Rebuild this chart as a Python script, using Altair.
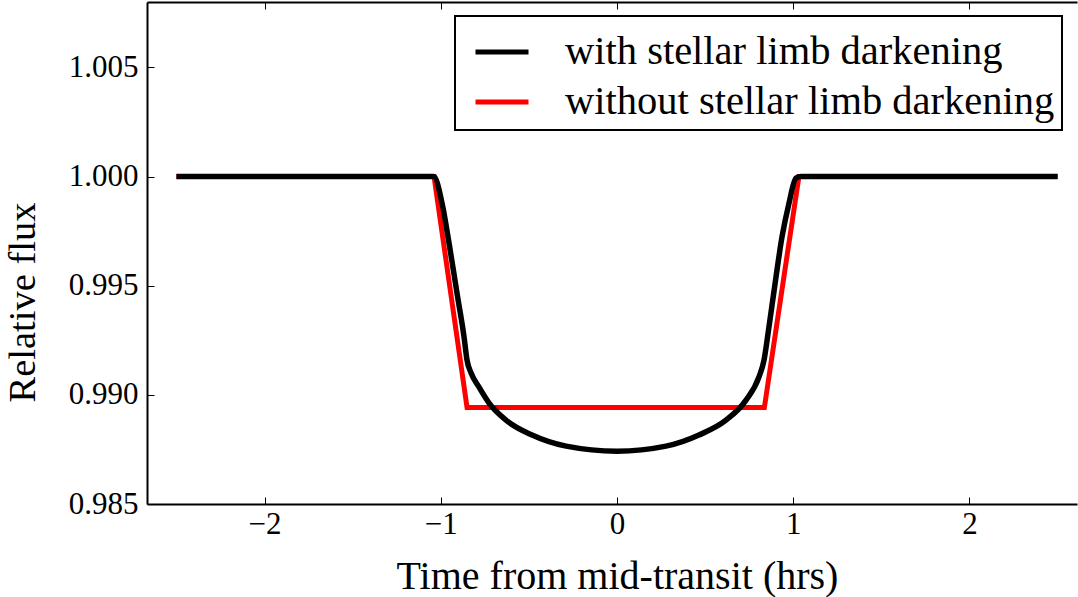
import altair as alt
import pandas as pd

# --- data ---
series_names = ["with stellar limb darkening\u00a0", "without stellar limb darkening\u00a0"]
series_colors = ["#000000", "#ff0000"]

t_with = [-2.5, -1.04, -0.993, -0.953, -0.908, -0.868, -0.851, -0.828, -0.783, -0.726,
          -0.630, -0.482, -0.289, 0.0, 0.278, 0.465, 0.618, 0.732, 0.805, 0.834,
          0.862, 0.902, 0.936, 0.976, 1.015, 1.044, 2.5]
flux_with = [1.0, 1.0, 0.99879, 0.99695, 0.99466, 0.99265, 0.99159, 0.99100, 0.99035, 0.98962,
             0.98884, 0.98816, 0.98765, 0.98742, 0.98765, 0.98816, 0.98884, 0.98976, 0.99081, 0.99159,
             0.99310, 0.99540, 0.99723, 0.99879, 0.99993, 1.0, 1.0]

t_without = [-2.5, -1.038, -0.851, 0.836, 1.032, 2.5]
flux_without = [1.0, 1.0, 0.98942, 0.98942, 1.0, 1.0]

x_ticks = [-2, -1, 0, 1, 2]
y_ticks = [0.985, 0.990, 0.995, 1.000, 1.005]
x_domain = [-2.667, 2.61]
y_domain = [0.985, 1.008]

FONT = "Liberation Serif"

df_with = pd.DataFrame({"t": t_with, "flux": flux_with, "series": series_names[0]})
df_without = pd.DataFrame({"t": t_without, "flux": flux_without, "series": series_names[1]})

xs = alt.Scale(domain=x_domain, nice=False, zero=False)
ys = alt.Scale(domain=y_domain, nice=False, zero=False)
cs = alt.Scale(domain=series_names, range=series_colors)

legend = alt.Legend(
    orient="none", legendX=308, legendY=14, title=None,
    symbolType="stroke", symbolSize=2809, symbolStrokeWidth=5,
    labelFontSize=40.5, labelFont=FONT, labelColor="black", labelOffset=34, labelLimit=0,
    padding=7, symbolOffset=11, rowPadding=0,
    strokeColor="black", fillColor="white",
)

x_main = alt.Axis(orient="bottom", values=x_ticks, format="d", ticks=False, domain=True,
                  domainColor="black", domainWidth=2, labelFontSize=31, labelFont=FONT,
                  labelColor="black", labelPadding=5, grid=False,
                  title="Time from mid-transit (hrs)", titleFontSize=40, titleFont=FONT,
                  titleFontWeight="normal", titleColor="black", titleX=470, titleY=84,
                  titleBaseline="alphabetic", titleAlign="center")
x_tick_axis = alt.Axis(orient="bottom", values=x_ticks, offset=-7, ticks=True, tickSize=7,
                       tickWidth=1, tickColor="black", domain=False, labels=False,
                       grid=False, title=None)
x_top_dom = alt.Axis(orient="top", values=x_ticks, ticks=False, domain=True, domainColor="black",
                     domainWidth=2, labels=False, grid=False, title=None)
x_top_ticks = alt.Axis(orient="top", values=x_ticks, offset=-7, ticks=True, tickSize=7,
                       tickWidth=1, tickColor="black", domain=False, labels=False,
                       grid=False, title=None)

y_main = alt.Axis(orient="left", values=y_ticks, format=".3f", ticks=False, domain=True,
                  domainColor="black", domainWidth=2, labelFontSize=31, labelFont=FONT,
                  labelColor="black", labelPadding=9, grid=False,
                  title="Relative flux", titleFontSize=38.5, titleFont=FONT,
                  titleFontWeight="normal", titleColor="black", titleX=-125, titleY=300,
                  titleAngle=270, titleBaseline="middle", titleAlign="center")
y_tick_axis = alt.Axis(orient="left", values=y_ticks, offset=-7, ticks=True, tickSize=7,
                       tickWidth=1, tickColor="black", domain=False, labels=False,
                       grid=False, title=None)

red = alt.Chart(df_without).mark_line(strokeWidth=5).encode(
    x=alt.X("t:Q", scale=xs, axis=x_main),
    y=alt.Y("flux:Q", scale=ys, axis=y_main),
    color=alt.Color("series:N", scale=cs, legend=legend),
)
black = alt.Chart(df_with).mark_line(strokeWidth=5.5, interpolate="monotone").encode(
    x=alt.X("t:Q", scale=xs, axis=x_tick_axis),
    y=alt.Y("flux:Q", scale=ys, axis=y_tick_axis),
    color=alt.Color("series:N", scale=cs, legend=legend),
)
ghost1 = alt.Chart(df_without).mark_line(strokeOpacity=0).encode(
    x=alt.X("t:Q", scale=xs, axis=x_top_dom),
    y=alt.Y("flux:Q", scale=ys, axis=None),
)
ghost2 = alt.Chart(df_without).mark_line(strokeOpacity=0).encode(
    x=alt.X("t:Q", scale=xs, axis=x_top_ticks),
    y=alt.Y("flux:Q", scale=ys, axis=None),
)

chart = alt.layer(red, black, ghost1, ghost2).resolve_axis(
    x="independent", y="independent"
).properties(
    width=930, height=502,
    padding={"left": 147, "top": 2, "right": 1, "bottom": 93},
    autosize=alt.AutoSizeParams(type="none"),
    background="white",
).configure(font=FONT).configure_view(stroke=None).configure_legend(strokeWidth=2)

chart.save("out.html", embed_options={"renderer": "svg", "actions": False})
